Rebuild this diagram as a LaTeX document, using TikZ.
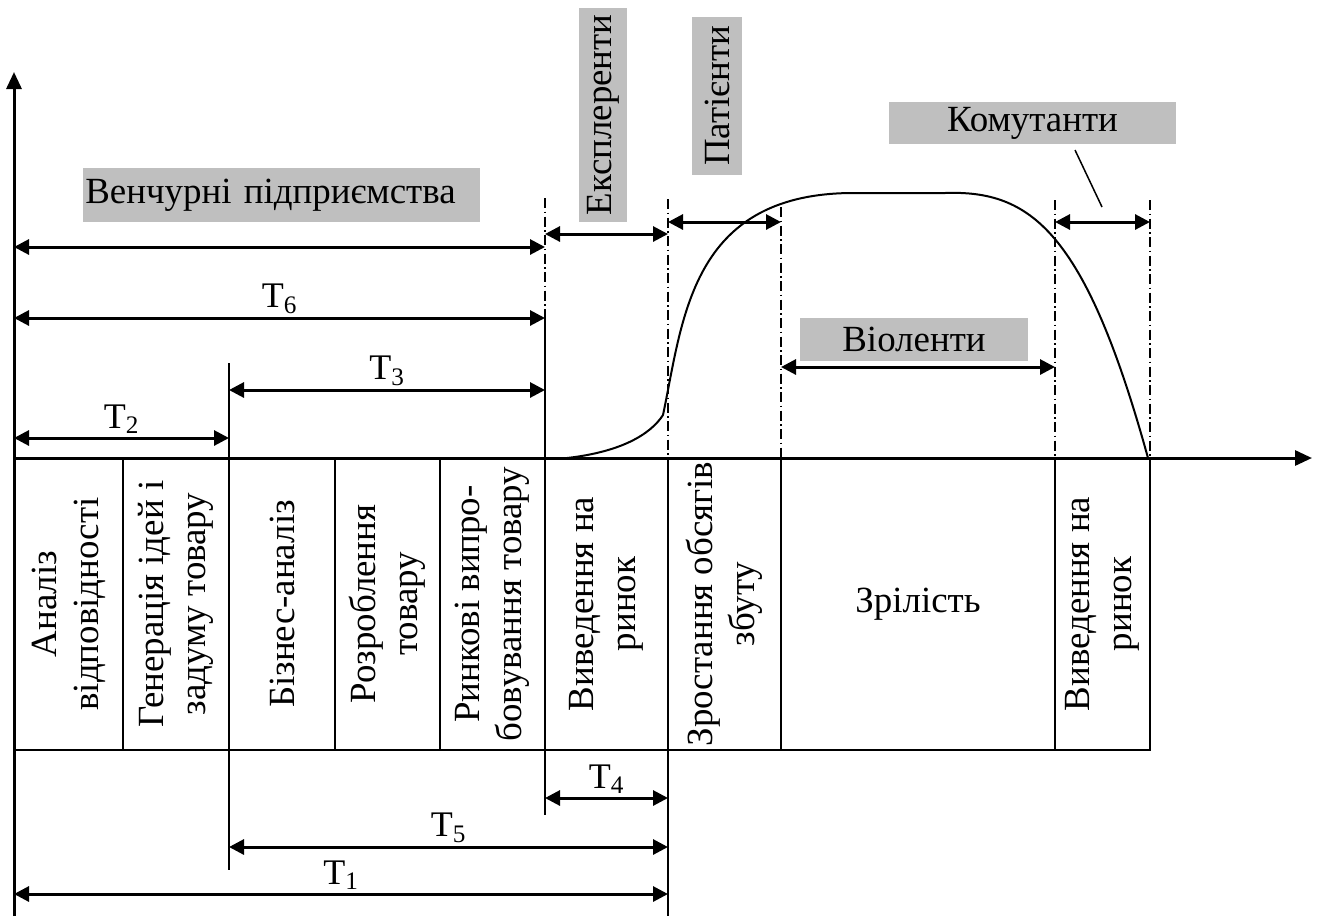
\documentclass[tikz,border=0pt]{standalone}
\usepackage{fontspec}
\setmainfont{Liberation Serif}
\usepackage{tikz}
\usetikzlibrary{arrows.meta}
\definecolor{sirij}{rgb}{0.75, 0.75, 0.75}

\begin{document}
\begin{tikzpicture}[x=0.2mm, y=-0.2mm,
    font=\fontsize{21}{24}\selectfont,
    vidrizok/.style={{Triangle[length=3mm,width=3mm]}-{Triangle[length=3mm,width=3mm]}, line width=0.6mm},
    vis/.style={-{Triangle[length=3.4mm,width=3mm]}, line width=0.6mm},
    mezha/.style={line width=0.3mm, dash pattern=on 2mm off 0.7mm on 0.3mm off 0.7mm},
    etap/.style={draw, line width=0.4mm, inner sep=0pt, align=center, rotate=90, minimum width=58.4mm},
    grupa/.style={fill=sirij, inner sep=0pt},
    tmitka/.style={midway, above, inner sep=0.6mm, font=\fontsize{20.5}{22}\selectfont}]
    \useasboundingbox (0,0) rectangle (1322,917);

    % Осі
    \coordinate (O) at (14,458);
    \coordinate (Yverh) at (14,72);
    \coordinate (Yniz) at (14,916);
    \coordinate (Xkin) at (1312,458);
    \draw[vis] (Yniz) -- (Yverh);
    \draw[vis] (O) -- (Xkin);

    % Етапи життєвого циклу
    \node[etap, minimum height=21.8mm] (analiz) at (68.5,604) {Аналіз\\відповідності};
    \node[etap, minimum height=21.2mm] (generacia) at (176,604) {Генерація ідей і\\задуму товару};
    \node[etap, minimum height=21.2mm] (biznes) at (282,604) {Бізнес-аналіз};
    \node[etap, minimum height=21mm] (rozrob) at (387.5,604) {Розроблення\\товару};
    \node[etap, minimum height=21mm] (testuv) at (492.5,604) {Ринкові випро-\\бовування товару};
    \node[etap, minimum height=24.6mm] (vyved) at (606.5,604) {Виведення на\\ринок};
    \node[etap, minimum height=22.6mm] (zrost) at (724.5,604) {Зростання обсягів\\збуту};
    \node[draw, line width=0.4mm, inner sep=0pt, minimum width=54.8mm, minimum height=58.4mm] (zrilist) at (918,604) {Зрілість};
    \node[etap, minimum height=19mm] (spad) at (1102.5,604) {Виведення на\\ринок};

    % Межі етапів
    \draw[line width=0.4mm] (229,363) -- (229,870);
    \draw[mezha] (545,198) -- (545,318);
    \draw[line width=0.4mm] (545,318) -- (545,815);
    \draw[mezha] (668,199) -- (668,458);
    \draw[line width=0.4mm] (668,458) -- (668,916);
    \draw[mezha] (781,207) -- (781,458);
    \draw[mezha] (1055,200) -- (1055,458);
    \draw[mezha] (1150,200) -- (1150,458);

    % Крива обсягів збуту
    \draw[line width=0.4mm] (567,458) .. controls (620,452) and (650,435) .. (663,415)
        .. controls (683,320) and (690,195) .. (850,193) -- (945,193)
        .. controls (1030,190) and (1085,230) .. (1148,458);

    % Венчурні підприємства
    \node[grupa, anchor=west, minimum height=10.8mm, text width=78.6mm, inner xsep=0.4mm, align=left] (venchur) at (83,195) {Венчурні підприємства};
    \coordinate (ven1) at (14,247);
    \coordinate (ven2) at (545,247);
    \draw[vidrizok] (ven1) -- (ven2);

    % Тривалості T2, T3, T6
    \coordinate (t6a) at (14,318);
    \coordinate (t6b) at (545,318);
    \draw[vidrizok] (t6a) -- (t6b) node[tmitka] (lt6) {T\textsubscript{6}};
    \coordinate (t3a) at (229,390);
    \coordinate (t3b) at (545,390);
    \draw[vidrizok] (t3a) -- (t3b) node[tmitka] (lt3) {T\textsubscript{3}};
    \coordinate (t2a) at (14,438);
    \coordinate (t2b) at (229,438);
    \draw[vidrizok] (t2a) -- (t2b) node[tmitka] (lt2) {T\textsubscript{2}};

    % Типи фірм
    \node[grupa, rotate=90, minimum width=42.8mm, minimum height=9.6mm] (ekspl) at (603,115) {Експлеренти};
    \coordinate (eks1) at (545,234);
    \coordinate (eks2) at (668,234);
    \draw[vidrizok] (eks1) -- (eks2);

    \node[grupa, rotate=90, minimum width=31.6mm, minimum height=10mm] (pation) at (717,96) {Патієнти};
    \coordinate (pat1) at (668,222);
    \coordinate (pat2) at (781,222);
    \draw[vidrizok] (pat1) -- (pat2);

    \node[grupa, minimum width=45.6mm, minimum height=8.6mm] (violent) at (914,339.5) {Віоленти};
    \coordinate (vio1) at (781,367);
    \coordinate (vio2) at (1055,367);
    \draw[vidrizok] (vio1) -- (vio2);

    \node[grupa, minimum width=57.4mm, minimum height=8.4mm] (komut) at (1032.5,123) {Комутанти};
    \coordinate (kom1) at (1055,222);
    \coordinate (kom2) at (1150,222);
    \draw[vidrizok] (kom1) -- (kom2);
    \coordinate (komA) at (1075,150);
    \coordinate (komB) at (1102,207);
    \draw[line width=0.3mm] (komA) -- (komB);

    % Тривалості T4, T5, T1
    \coordinate (t4a) at (545,798);
    \coordinate (t4b) at (668,798);
    \draw[vidrizok] (t4a) -- (t4b) node[tmitka] (lt4) {T\textsubscript{4}};
    \coordinate (t5a) at (229,847);
    \coordinate (t5b) at (668,847);
    \draw[vidrizok] (t5a) -- (t5b) node[tmitka] (lt5) {T\textsubscript{5}};
    \coordinate (t1a) at (14,894);
    \coordinate (t1b) at (668,894);
    \draw[vidrizok] (t1a) -- (t1b) node[tmitka] (lt1) {T\textsubscript{1}};
\end{tikzpicture}
\end{document}
